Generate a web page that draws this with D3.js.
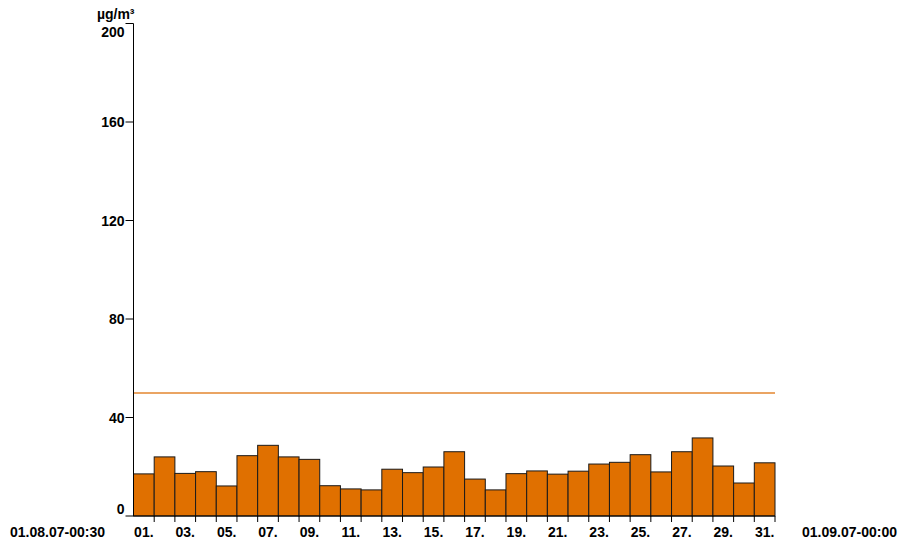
<!DOCTYPE html>
<html>
<head>
<meta charset="utf-8">
<script src="https://cdn.jsdelivr.net/npm/d3@7/dist/d3.min.js"></script>
<style>
  body { margin: 0; background: #fff; }
  svg { display: block; }
  text { font-family: "Liberation Sans", Arial, Helvetica, sans-serif; font-weight: bold; font-size: 14px; fill: #000; }
</style>
</head>
<body>
<svg id="chart" width="903" height="542"></svg>
<script>
// Daily means, August 2007 (µg/m³)
const days = d3.range(1, 32);
const values = [17.1, 24.0, 17.3, 18.0, 12.2, 24.5, 28.7, 24.0, 23.0, 12.3,
                11.0, 10.6, 19.0, 17.6, 19.9, 26.1, 15.0, 10.6, 17.2, 18.3,
                17.0, 18.2, 21.1, 21.8, 24.9, 17.9, 26.1, 31.7, 20.3, 13.4, 21.6];
const limitValue = 50;
const yTicks = [0, 40, 80, 120, 160, 200];
const unitLabel = "µg/m³";
const startLabel = "01.08.07-00:30";
const endLabel = "01.09.07-00:00";

const svg = d3.select("#chart");
const plotLeft = 133.5, plotRight = 775, plotTop = 23.5, plotBottom = 516;

const x = d3.scaleLinear().domain([0, days.length]).range([plotLeft, plotRight]);
const y = d3.scaleLinear().domain([0, 200]).range([plotBottom, plotTop]);

// bars
svg.append("g")
  .selectAll("rect")
  .data(values)
  .join("rect")
  .attr("x", (d, i) => x(i))
  .attr("y", d => y(d))
  .attr("width", x(1) - x(0))
  .attr("height", d => y(0) - y(d))
  .attr("fill", "#e07000")
  .attr("stroke", "#1a1a1a")
  .attr("stroke-width", 1);

// limit line
svg.append("line")
  .attr("x1", plotLeft).attr("x2", plotRight)
  .attr("y1", y(limitValue)).attr("y2", y(limitValue))
  .attr("stroke", "#e3862f")
  .attr("stroke-width", 1.5);

// y axis
const yAxis = svg.append("g").attr("transform", `translate(${plotLeft},0)`);
yAxis.append("line").attr("x1", 0).attr("x2", 0).attr("y1", plotTop).attr("y2", plotBottom)
  .attr("stroke", "#000").attr("stroke-width", 1);
yAxis.selectAll("line.tick").data(yTicks).join("line").attr("class", "tick")
  .attr("x1", -8).attr("x2", 0)
  .attr("y1", d => y(d)).attr("y2", d => y(d))
  .attr("stroke", "#000").attr("stroke-width", 1);
yAxis.selectAll("text.tl").data(yTicks).join("text").attr("class", "tl")
  .attr("x", -9)
  .attr("y", d => y(d) + (d === 200 ? 13.5 : d === 0 ? -2.5 : 5))
  .attr("text-anchor", "end")
  .text(d => d);
svg.append("text").attr("x", plotLeft + 1).attr("y", 19).attr("text-anchor", "end").text(unitLabel);

// x axis
const xAxis = svg.append("g").attr("transform", `translate(0,${plotBottom})`);
xAxis.append("line").attr("x1", plotLeft).attr("x2", plotRight).attr("y1", 0).attr("y2", 0)
  .attr("stroke", "#000").attr("stroke-width", 1.2);
xAxis.selectAll("line.tick").data(d3.range(1, days.length + 1)).join("line").attr("class", "tick")
  .attr("x1", d => x(d)).attr("x2", d => x(d))
  .attr("y1", 0).attr("y2", 6)
  .attr("stroke", "#000").attr("stroke-width", 1);
xAxis.selectAll("text.dl").data(days.filter(d => d % 2 === 1)).join("text").attr("class", "dl")
  .attr("x", d => x(d - 0.5))
  .attr("y", 21)
  .attr("text-anchor", "middle")
  .text(d => String(d).padStart(2, "0") + ".");
svg.append("text").attr("x", 10).attr("y", 537).text(startLabel);
svg.append("text").attr("x", 897).attr("y", 537).attr("text-anchor", "end").text(endLabel);
</script>
</body>
</html>
